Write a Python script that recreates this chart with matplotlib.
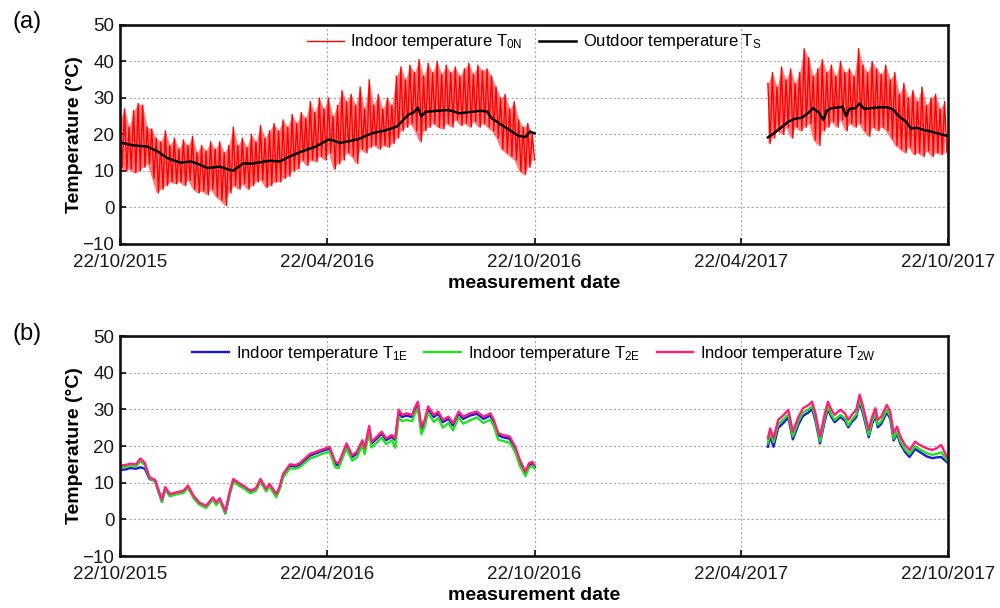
import numpy as np
import matplotlib
matplotlib.use("Agg")
import matplotlib.pyplot as plt

plt.rcParams['font.family'] = ['Liberation Sans', 'DejaVu Sans']
plt.rcParams['mathtext.fontset'] = 'custom'
plt.rcParams['mathtext.rm'] = 'Liberation Sans'
plt.rcParams['mathtext.it'] = 'Liberation Sans:italic'
plt.rcParams['mathtext.bf'] = 'Liberation Sans:bold'

# ---------------------------------------------------------------------------
# Data: days counted from 22/10/2015
# ---------------------------------------------------------------------------
START = np.datetime64('2015-10-22')
tick_dates = ['2015-10-22', '2016-04-22', '2016-10-22', '2017-04-22', '2017-10-22']
tick_labels = ['22/10/2015', '22/04/2016', '22/10/2016', '22/04/2017', '22/10/2017']

# (a) indoor temperature T0N: daily peak / trough every 4 days
days_a1 = list(range(0, 368, 4))
t0n_max_1 = [24, 27, 22, 26.5, 28.5, 28, 22, 21.5, 19, 18,
             21, 17, 19, 16, 18.5, 17, 19.5, 15, 17, 15.5,
             18, 16, 18, 15, 17, 22, 17, 19, 16.5, 20,
             18, 22.5, 19, 21, 23, 21, 24, 22, 25.5, 23,
             26, 24.5, 29, 26, 30, 27, 30, 25, 28, 32,
             29, 31, 28, 33, 27, 35, 28, 31, 27, 30,
             28, 36, 38.5, 35, 39, 37, 40.5, 36, 39.5, 37,
             40, 36.5, 39, 37, 38.5, 36, 38, 39.5, 36.5, 39,
             37.5, 38, 36, 33, 30, 31, 27, 29, 24, 22,
             23, 20]
t0n_min_1 = [11, 10, 10.5, 9.5, 10, 11, 12, 8, 4, 5,
             6, 7, 6.5, 7, 6, 7.5, 5, 4, 4.5, 3.5,
             5, 3, 2, 0.5, 4, 6, 5, 6.5, 5, 6,
             7, 7.5, 5.5, 6, 7, 7, 8, 8.5, 10, 10.5,
             13, 11.5, 13, 12.5, 14, 13, 15, 10.5, 12, 13,
             15, 14, 12, 16, 15, 16.5, 17, 16, 17, 16.5,
             17.5, 19, 21, 22, 23, 21, 18, 21, 22, 23,
             22, 21.5, 23, 22, 24, 22.5, 23, 22, 23.5, 22,
             23, 22, 21, 19, 16, 15, 14, 13, 10, 9,
             11, 13]
days_a2 = list(range(572, 732, 4))
t0n_max_2 = [34, 37, 33, 38.5, 35, 38, 34, 37, 43.5, 41,
             36, 38, 40.5, 37, 39, 36, 40, 37, 38, 36,
             43.5, 39, 37, 40, 38, 36.5, 39, 35, 37, 31,
             34, 30, 32, 29, 33, 28, 30, 31, 27, 29]
t0n_min_2 = [17.5, 19, 21, 20, 22, 19, 22, 21, 22, 23,
             18.5, 17, 21, 22, 23.5, 22, 24, 21, 23, 22,
             23, 21, 19.5, 22, 21, 22, 21, 19, 17, 16,
             15, 16.5, 14.5, 15, 14, 15.5, 14, 15, 14.5, 15]

# (a) outdoor temperature TS
days_s1 = [0, 12, 24, 33, 42, 53, 63, 70, 77, 88, 97, 100, 109, 116, 124, 132,
           141, 150, 160, 173, 184, 188, 194, 203, 211, 223, 233, 241, 245, 250,
           255, 259, 263, 266, 270, 280, 290, 300, 310, 318, 324, 328, 336, 344,
           352, 358, 362, 366]
ts_1 = [17.8, 17.0, 16.7, 15.4, 13.5, 12.3, 12.6, 11.8, 10.8, 11.2, 10.3, 10.1,
        12.1, 12.0, 12.4, 12.8, 12.6, 14.0, 15.3, 16.7, 18.6, 18.4, 17.7, 18.2,
        18.8, 20.4, 21.0, 21.8, 22.3, 24.0, 25.5, 26.0, 27.3, 25.0, 26.2, 26.5,
        26.7, 25.8, 26.2, 26.5, 26.3, 24.5, 22.8, 21.2, 19.6, 19.3, 20.8, 20.3]
days_s2 = [572, 578, 584, 590, 596, 602, 608, 612, 617, 621, 624, 628, 634, 638,
           641, 644, 649, 653, 657, 662, 670, 676, 682, 688, 694, 698, 704, 710,
           716, 722, 728, 731]
ts_2 = [19.2, 20.5, 22.0, 23.5, 24.3, 24.6, 26.0, 27.2, 26.0, 24.0, 26.5, 27.2,
        27.4, 27.6, 25.0, 27.0, 27.2, 28.5, 27.0, 27.2, 27.4, 27.5, 27.0, 24.9,
        23.5, 21.7, 21.8, 21.2, 20.8, 20.3, 19.8, 19.6]

# (b) indoor temperatures T1E, T2E, T2W
days_b1 = [0, 5, 9, 14, 18, 22, 26, 31, 34, 37, 40, 44, 50, 56, 60, 65, 70, 76,
           82, 85, 88, 93, 97, 100, 106, 110, 115, 120, 124, 129, 132, 138, 141,
           144, 150, 155, 159, 164, 168, 172, 177, 181, 185, 190, 193, 197, 200,
           205, 209, 214, 216, 220, 222, 227, 231, 235, 240, 243, 246, 249, 253,
           258, 260, 263, 266, 269, 272, 277, 281, 285, 290, 294, 299, 303, 309,
           315, 321, 327, 330, 334, 338, 344, 349, 353, 358, 361, 364, 366]
t2w_1 = [14.7, 14.8, 15.2, 15.0, 16.6, 15.4, 11.5, 10.8, 8.0, 5.5, 8.8, 6.9, 7.4,
         7.8, 9.2, 6.4, 4.6, 3.7, 6.0, 4.6, 5.8, 2.3, 7.8, 11.0, 9.7, 9.0, 7.8,
         8.5, 11.0, 8.3, 9.7, 6.9, 9.0, 12.4, 15.0, 14.8, 15.4, 16.8, 17.9, 18.3,
         18.9, 19.3, 19.8, 15.7, 15.3, 18.4, 20.7, 17.5, 18.4, 21.6, 19.4, 25.5,
         21.2, 22.6, 23.9, 22.1, 23.0, 22.1, 29.9, 28.5, 28.9, 28.5, 30.3, 32.1,
         25.3, 27.1, 30.8, 28.5, 29.4, 27.1, 28.0, 26.2, 29.4, 28.0, 28.9, 29.4,
         28.0, 28.9, 27.1, 23.5, 23.0, 22.6, 19.8, 16.2, 13.0, 15.3, 15.7, 14.8]
t1e_1 = [13.5, 13.6, 14.0, 13.8, 14.2, 13.8, 11.0, 10.5, 7.6, 4.8, 8.4, 6.4, 7.0,
         7.4, 8.8, 6.0, 4.3, 3.4, 5.6, 4.3, 5.4, 1.6, 7.2, 10.6, 9.3, 8.7, 7.5,
         8.2, 10.6, 8.0, 9.4, 6.5, 8.6, 12.0, 14.6, 14.4, 15.0, 16.4, 17.4, 17.9,
         18.5, 18.9, 19.3, 15.1, 14.7, 17.9, 20.2, 17.0, 17.9, 21.1, 18.9, 24.8,
         20.7, 22.1, 23.4, 21.6, 22.5, 21.6, 29.1, 27.9, 28.3, 27.9, 29.6, 31.3,
         24.5, 26.5, 30.1, 27.9, 28.8, 26.5, 27.4, 25.6, 28.8, 27.4, 28.3, 28.8,
         27.4, 28.3, 26.5, 22.9, 22.4, 22.0, 19.2, 15.6, 12.5, 14.8, 15.2, 14.3]
t2e_1 = [14.2, 14.3, 14.6, 14.4, 15.8, 14.8, 11.2, 10.4, 7.4, 4.9, 8.2, 6.3, 6.9,
         7.2, 8.6, 5.8, 4.0, 3.1, 5.4, 3.9, 5.1, 1.7, 7.0, 10.2, 9.0, 8.3, 7.1,
         7.8, 10.2, 7.6, 8.9, 6.0, 8.2, 11.4, 13.9, 13.8, 14.3, 15.6, 16.7, 17.0,
         17.7, 18.1, 18.5, 14.2, 14.0, 17.1, 19.3, 16.0, 16.9, 20.2, 17.8, 23.8,
         19.6, 21.0, 22.3, 20.5, 21.6, 19.5, 27.8, 26.8, 27.1, 26.8, 28.6, 30.3,
         23.2, 25.3, 29.1, 26.6, 27.6, 25.0, 26.3, 24.3, 27.8, 26.1, 27.0, 27.8,
         26.3, 27.2, 25.4, 21.7, 21.4, 20.9, 18.3, 14.6, 11.8, 14.0, 14.6, 13.9]
days_b2 = [572, 574, 577, 581, 586, 590, 594, 599, 603, 608, 611, 614, 618, 622,
           625, 628, 631, 636, 640, 643, 646, 650, 653, 656, 661, 664, 667, 669,
           672, 677, 680, 683, 686, 689, 693, 697, 702, 706, 712, 717, 721, 725, 730]
t2w_2 = [22.1, 24.8, 22.1, 27.1, 28.5, 29.9, 23.9, 28.0, 30.3, 31.2, 32.1, 28.9,
         22.6, 28.5, 32.1, 29.9, 28.5, 29.9, 28.9, 27.1, 28.5, 29.9, 34.0, 30.8,
         24.4, 28.0, 30.3, 27.1, 28.0, 31.2, 29.4, 23.5, 25.3, 22.6, 20.3, 18.9,
         21.2, 20.3, 19.4, 18.9, 19.4, 20.3, 17.0]
t1e_2 = [19.8, 22.6, 19.8, 24.9, 26.4, 27.8, 21.8, 25.9, 28.2, 29.2, 30.1, 26.9,
         20.7, 26.5, 30.1, 27.9, 26.5, 27.9, 26.9, 25.1, 26.5, 27.9, 32.0, 28.8,
         22.4, 26.0, 28.3, 25.1, 26.0, 29.2, 27.4, 21.5, 23.3, 20.6, 18.4, 17.0,
         19.2, 18.4, 17.2, 16.7, 16.9, 17.0, 15.6]
t2e_2 = [20.8, 23.6, 21.0, 25.9, 27.3, 28.6, 22.6, 26.8, 29.1, 30.0, 30.9, 27.7,
         21.3, 27.3, 30.8, 28.6, 27.1, 28.5, 27.6, 25.6, 27.1, 28.6, 32.8, 29.6,
         23.0, 26.7, 29.0, 25.8, 26.7, 29.9, 28.1, 22.0, 24.0, 21.3, 19.1, 17.8,
         20.0, 19.1, 18.1, 17.6, 17.9, 18.3, 16.2]


def to_dates(days):
    return START + np.asarray(days, dtype=int).astype('timedelta64[D]')


def zigzag(days, highs, lows):
    """Alternate each daily peak with the following trough."""
    d = np.asarray(days, dtype=float)
    x = np.empty(2 * len(d))
    y = np.empty(2 * len(d))
    x[0::2], x[1::2] = d, d + 2
    y[0::2], y[1::2] = highs, lows
    return START + (x * 24).astype(int).astype('timedelta64[h]'), y


def style_axes(ax):
    ax.set_xlim(np.datetime64(tick_dates[0]), np.datetime64(tick_dates[-1]))
    ax.set_ylim(-10, 50)
    ax.set_yticks(range(-10, 51, 10))
    ax.set_xticks([np.datetime64(d) for d in tick_dates])
    ax.set_xticklabels(tick_labels)
    ax.grid(True, color='#a8a8a8', linestyle=(0, (2, 2)), linewidth=0.8)
    ax.set_axisbelow(True)
    ax.tick_params(direction='in', length=4, width=1.3, labelsize=13.5,
                   colors='#1a1a1a', top=False, right=False)
    ax.tick_params(axis='x', pad=7)
    ax.tick_params(axis='y', pad=4)
    for sp in ax.spines.values():
        sp.set_linewidth(1.9)
        sp.set_color('#111111')
    ax.set_xlabel('measurement date', fontsize=14, fontweight='bold', labelpad=3)
    ax.set_ylabel('Temperature (°C)', fontsize=14, fontweight='bold', labelpad=0)


fig = plt.figure(figsize=(10, 6.08), dpi=100)
ax_a = fig.add_axes([0.12, 0.5987, 0.828, 0.3602])
ax_b = fig.add_axes([0.12, 0.0855, 0.828, 0.3618])

# ---- panel (a)
for i, (d, hi, lo) in enumerate([(days_a1, t0n_max_1, t0n_min_1),
                                 (days_a2, t0n_max_2, t0n_min_2)]):
    ax_a.fill_between(to_dates(d), lo, hi, color='#ff1010', alpha=0.55,
                      linewidth=0)
    x, y = zigzag(d, hi, lo)
    ax_a.plot(x, y, color='#ff0000', lw=1.0,
              label='Indoor temperature T$_{\\mathrm{0N}}$' if i == 0 else None)
for i, (d, v) in enumerate([(days_s1, ts_1), (days_s2, ts_2)]):
    ax_a.plot(to_dates(d), v, color='black', lw=1.8,
              label='Outdoor temperature T$_{\\mathrm{S}}$' if i == 0 else None)
style_axes(ax_a)
ax_a.legend(loc='upper center', ncol=2, frameon=False, fontsize=12,
            handlelength=2.2, handletextpad=0.4, columnspacing=1.0,
            borderaxespad=0.05)

# ---- panel (b)
series_b = [
    ('Indoor temperature T$_{\\mathrm{1E}}$', '#1a1ad8', t1e_1, t1e_2),
    ('Indoor temperature T$_{\\mathrm{2E}}$', '#22e022', t2e_1, t2e_2),
    ('Indoor temperature T$_{\\mathrm{2W}}$', '#ff1f7a', t2w_1, t2w_2),
]
for label, color, v1, v2 in series_b:
    ax_b.plot(to_dates(days_b1), v1, color=color, lw=1.7, label=label)
    ax_b.plot(to_dates(days_b2), v2, color=color, lw=1.7)
style_axes(ax_b)
ax_b.legend(loc='upper center', ncol=3, frameon=False, fontsize=12,
            handlelength=2.2, handletextpad=0.4, columnspacing=1.0,
            borderaxespad=0.05)

fig.text(0.012, 1 - 22 / 608, '(a)', fontsize=17, va='center', ha='left')
fig.text(0.012, 1 - 334 / 608, '(b)', fontsize=17, va='center', ha='left')

fig.savefig('out.png', dpi=100)
